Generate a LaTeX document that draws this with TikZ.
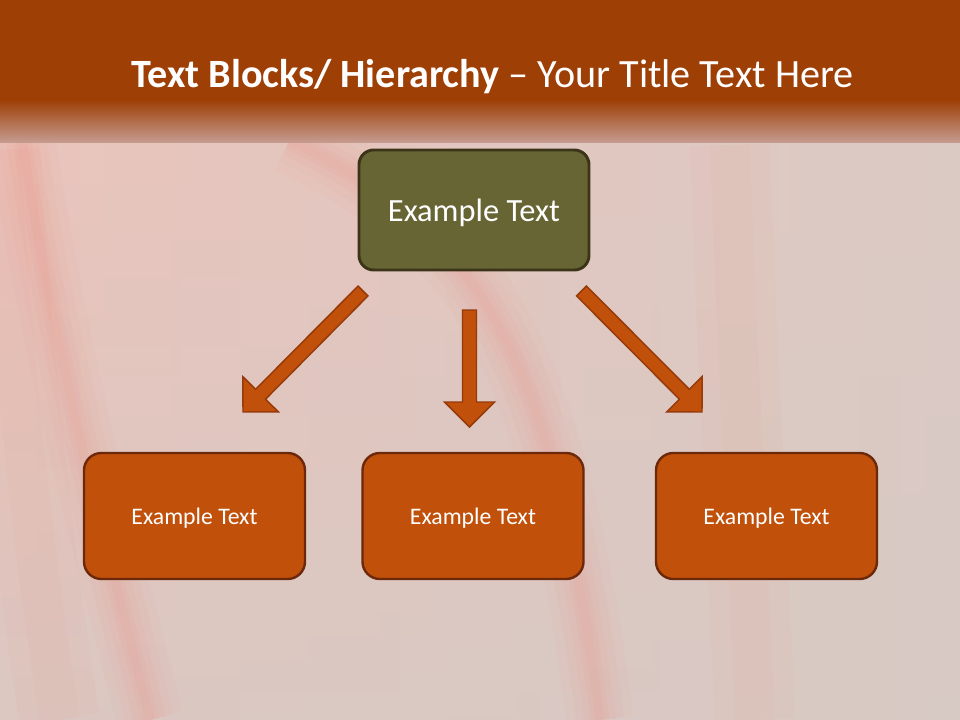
\documentclass[tikz,border=0pt]{standalone}
\usepackage{fontspec}
\setmainfont{Carlito}
\usetikzlibrary{calc,fadings}
\definecolor{hdr}{RGB}{158,63,6}
\definecolor{hdrlow}{RGB}{198,156,146}
\definecolor{olivebox}{RGB}{103,101,52}
\definecolor{oliveline}{RGB}{60,52,24}
\definecolor{rustbox}{RGB}{192,80,10}
\definecolor{rustline}{RGB}{108,40,10}
\definecolor{arrowline}{RGB}{150,58,10}
\definecolor{bgleft}{RGB}{234,196,188}
\definecolor{bgright}{RGB}{220,202,196}
\definecolor{bggray}{RGB}{214,201,196}
\definecolor{streak}{RGB}{250,110,90}
\tikzfading[name=fadeup, top color=transparent!100, bottom color=transparent!0]
\tikzset{
  topbox/.style={draw=oliveline, line width=2.2pt, fill=olivebox, rounded corners=11pt,
    minimum width=172.5pt, minimum height=90pt, inner sep=0pt, text=white, font=\fontsize{24.3}{28}\selectfont},
  lowbox/.style={draw=rustline, line width=1.8pt, fill=rustbox, rounded corners=13pt,
    minimum width=165.75pt, minimum height=94.5pt, inner sep=0pt, text=white, font=\fontsize{17.8}{21}\selectfont},
  blockarrow/.style={draw=arrowline, line width=1.1pt, fill=rustbox, line join=miter},
  titletext/.style={text=white, inner sep=0pt, font=\fontsize{30.1}{34}\selectfont}
}
\newcommand{\blkarrow}[2]{%
  \coordinate (hb) at ($(#2)!18.75pt!(#1)$);
  \draw[blockarrow] ($(#1)!5.25pt!90:(#2)$) -- ($(hb)!5.25pt!90:(#2)$) -- ($(hb)!18.75pt!90:(#2)$) -- (#2)
     -- ($(hb)!18.75pt!-90:(#2)$) -- ($(hb)!5.25pt!-90:(#2)$) -- ($(#1)!5.25pt!-90:(#2)$) -- cycle;}
\newcommand{\lowertext}[2]{\raisebox{-#1}[\height][\depth]{#2}}
\begin{document}
\begin{tikzpicture}[x=0.75pt, y=-0.75pt]
\useasboundingbox (0,0) rectangle (960,720);
% background
\shade[left color=bgleft, right color=bgright] (0,0) rectangle (960,720);
\fill[bggray, path fading=fadeup, opacity=0.7] (0,140) rectangle (960,720);
% streaks
\foreach \w/\o in {50/0.03, 36/0.035, 24/0.04, 14/0.045, 7/0.05}{
  \draw[streak, line width=\w pt, opacity=\o] (22,140) .. controls (55,360) and (110,560) .. (150,720);
  \draw[streak, line width=\w pt, opacity=\o] (290,140) .. controls (470,230) and (550,330) .. (600,720);
}
\foreach \w/\o in {60/0.03, 30/0.03}{
  \draw[streak, line width=\w pt, opacity=\o] (0,150) .. controls (15,400) and (40,600) .. (60,720);
  \draw[streak, line width=\w pt, opacity=\o] (730,145) .. controls (735,300) and (745,500) .. (755,720);
}
% header
\fill[hdr] (0,0) rectangle (960,101);
\shade[top color=hdr, bottom color=hdrlow] (0,100) rectangle (960,143);
% title
\node[titletext, anchor=base west] (title) at (131,88) {\textbf{Text Blocks/ Hierarchy} – Your Title Text Here};
% boxes
\node[topbox] (top) at (474,210) {\lowertext{2.2pt}{Example Text}};
\node[lowbox] (left) at (194.5,516) {\lowertext{1.65pt}{Example Text}};
\node[lowbox] (mid) at (473,516) {\lowertext{1.65pt}{Example Text}};
\node[lowbox] (right) at (766.5,516) {\lowertext{1.65pt}{Example Text}};
% arrows
\coordinate (a1s) at (363,291);
\coordinate (a1t) at (243,412);
\coordinate (a2s) at (469.5,310);
\coordinate (a2t) at (469.5,427);
\coordinate (a3s) at (581.5,291);
\coordinate (a3t) at (702,412);
\blkarrow{a1s}{a1t}
\blkarrow{a2s}{a2t}
\blkarrow{a3s}{a3t}
\end{tikzpicture}
\end{document}
